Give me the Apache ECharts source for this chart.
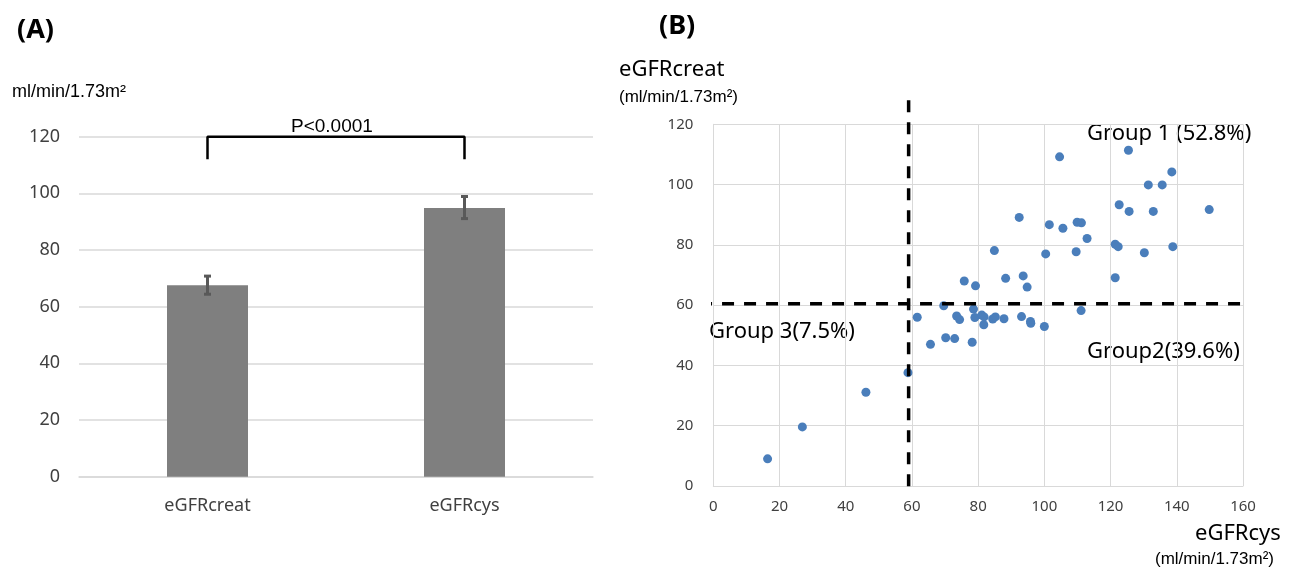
<!DOCTYPE html>
<html>
<head>
<meta charset="utf-8">
<script src="https://cdn.jsdelivr.net/npm/echarts@6/dist/echarts.min.js"></script>
<style>
  html, body { margin: 0; padding: 0; background: #fff; }
  #chart { width: 1316px; height: 569px; }
</style>
</head>
<body>
<div id="chart"></div>
<script>
// (A) bar chart data
const barCategories = ['eGFRcreat', 'eGFRcys'];
const barMeans = [67.6, 94.8];
const barErrLow = [64.4, 91.1];
const barErrHigh = [70.8, 98.9];
const barTicks = [0, 20, 40, 60, 80, 100, 120];
const bracketTop = 120;
const bracketLeg = 112;

// (B) scatter data: eGFRcys (x) vs eGFRcreat (y)
const scatterCys = [
  16.4, 26.9, 46.1, 58.8,
  61.6, 69.6, 73.5, 74.4, 78.6, 79.0, 81.1, 81.8, 81.7, 84.4, 85.2, 87.8,
  93.1, 95.8, 95.9, 100.0, 111.1, 65.6, 70.2, 72.9, 78.2,
  84.9, 75.8, 79.2, 88.3, 93.6, 94.8, 104.6, 92.4, 101.5, 105.6, 109.9,
  111.2, 112.9, 100.4, 109.6, 125.4, 138.5, 131.4, 135.6, 122.6, 125.6,
  132.9, 149.8, 121.4, 122.3, 130.2, 138.8, 121.4
];
const scatterCreat = [
  9.0, 19.6, 31.1, 37.6,
  56.0, 59.8, 56.4, 55.2, 58.7, 55.9, 56.7, 56.1, 53.5, 55.4, 56.1, 55.5,
  56.2, 54.6, 54.0, 52.9, 58.2, 47.0, 49.2, 48.9, 47.7,
  78.1, 68.0, 66.4, 68.9, 69.7, 66.0, 109.2, 89.1, 86.7, 85.5, 87.5,
  87.3, 82.1, 77.0, 77.7, 111.4, 104.2, 99.9, 99.9, 93.3, 91.1,
  91.1, 91.7, 80.2, 79.4, 77.4, 79.4, 69.1
];
const cutoffCys = 59;
const cutoffCreat = 60.5;
const scatterXTicks = [0, 20, 40, 60, 80, 100, 120, 140, 160];
const scatterYTicks = [0, 20, 40, 60, 80, 100, 120];

const font = '"Noto Sans", sans-serif';
const arial = '"Liberation Sans", Arial, sans-serif';
const gridColor = '#d9d9d9';
const tickColor = '#404040';

const chart = echarts.init(document.getElementById('chart'));

const scatterPoints = scatterCys.map((x, i) => [x, scatterCreat[i]]);
const errData = barCategories.map((c, i) => [i, barErrLow[i], barErrHigh[i]]);

const option = {
  animation: false,
  grid: [
    { left: 79, right: 723, top: 136.7, bottom: 92.3 },
    { left: 713.3, right: 73, top: 124.3, bottom: 83 }
  ],
  xAxis: [
    {
      gridIndex: 0,
      type: 'category',
      data: barCategories,
      axisLine: { lineStyle: { color: gridColor, width: 1.5 } },
      axisTick: { show: false },
      axisLabel: { color: tickColor, fontFamily: font, fontSize: 18, margin: 20 }
    },
    {
      gridIndex: 1,
      type: 'value',
      min: 0, max: 160, interval: 20,
      axisLine: { show: true, lineStyle: { color: gridColor } },
      axisTick: { show: false },
      splitLine: { lineStyle: { color: gridColor, width: 1 } },
      axisLabel: { color: tickColor, fontFamily: font, fontSize: 15, margin: 13 }
    }
  ],
  yAxis: [
    {
      gridIndex: 0,
      type: 'value',
      position: 'left',
      min: 0, max: 120, interval: 20,
      axisLine: { show: false },
      axisTick: { show: false },
      splitLine: { lineStyle: { color: gridColor, width: 1.5 } },
      axisLabel: { color: tickColor, fontFamily: font, fontSize: 18, margin: 19 }
    },
    {
      gridIndex: 1,
      type: 'value',
      position: 'left',
      min: 0, max: 120, interval: 20,
      axisLine: { show: true, onZero: false, lineStyle: { color: gridColor } },
      axisTick: { show: false },
      splitLine: { lineStyle: { color: gridColor, width: 1 } },
      axisLabel: { color: tickColor, fontFamily: font, fontSize: 15, margin: 20, align: 'right' }
    }
  ],
  series: [
    {
      type: 'bar',
      xAxisIndex: 0, yAxisIndex: 0,
      data: barMeans,
      barWidth: 81,
      itemStyle: { color: '#7f7f7f' },
      silent: true
    },
    {
      type: 'custom',
      xAxisIndex: 0, yAxisIndex: 0,
      data: errData,
      z: 10,
      renderItem: function (params, api) {
        const lo = api.coord([api.value(0), api.value(1)]);
        const hi = api.coord([api.value(0), api.value(2)]);
        const cap = 3.5;
        const style = { stroke: '#595959', lineWidth: 3 };
        return {
          type: 'group',
          children: [
            { type: 'line', shape: { x1: lo[0], y1: lo[1], x2: hi[0], y2: hi[1] }, style: style },
            { type: 'line', shape: { x1: lo[0] - cap, y1: lo[1], x2: lo[0] + cap, y2: lo[1] }, style: style },
            { type: 'line', shape: { x1: hi[0] - cap, y1: hi[1], x2: hi[0] + cap, y2: hi[1] }, style: style }
          ]
        };
      }
    },
    {
      type: 'line',
      xAxisIndex: 0, yAxisIndex: 0,
      data: [[0, bracketLeg], [0, bracketTop], [1, bracketTop], [1, bracketLeg]],
      symbol: 'none',
      clip: false,
      lineStyle: { color: '#000', width: 2.5 },
      silent: true
    },
    {
      type: 'scatter',
      xAxisIndex: 1, yAxisIndex: 1,
      data: scatterPoints,
      symbolSize: 9,
      itemStyle: { color: '#4a7ebb', opacity: 1 }
    },
    {
      type: 'line',
      xAxisIndex: 1, yAxisIndex: 1,
      data: [[-4, cutoffCreat], [162, cutoffCreat]],
      symbol: 'none',
      clip: false,
      lineStyle: { color: '#000', width: 3.5, type: [12, 10] },
      silent: true
    },
    {
      type: 'line',
      xAxisIndex: 1, yAxisIndex: 1,
      data: [[cutoffCys, 128], [cutoffCys, -3]],
      symbol: 'none',
      clip: false,
      lineStyle: { color: '#000', width: 3.5, type: [12, 10] },
      silent: true
    }
  ],
  graphic: [
    { type: 'text', left: 17, top: 17, style: { text: '(A)', font: 'bold 27px ' + font, fill: '#000' } },
    { type: 'text', left: 12, top: 83, style: { text: 'ml/min/1.73m²', font: '18px ' + arial, fill: '#000' } },
    { type: 'text', left: 291, top: 117, style: { text: 'P<0.0001', font: '19px ' + arial, fill: '#000' } },
    { type: 'text', left: 659, top: 13, style: { text: '(B)', font: 'bold 27px ' + font, fill: '#000' } },
    { type: 'text', left: 619, top: 59, style: { text: 'eGFRcreat', font: '22px ' + font, fill: '#000' } },
    { type: 'text', left: 619, top: 89, style: { text: '(ml/min/1.73m²)', font: '17px ' + arial, fill: '#000' } },
    { type: 'text', left: 1087, top: 123, style: { text: 'Group 1 (52.8%)', font: '22px ' + font, fill: '#000' } },
    { type: 'text', left: 709, top: 321, style: { text: 'Group 3(7.5%)', font: '22px ' + font, fill: '#000' } },
    { type: 'text', left: 1087, top: 341, style: { text: 'Group2(39.6%)', font: '22px ' + font, fill: '#000' } },
    { type: 'text', left: 1195, top: 523, style: { text: 'eGFRcys', font: '22px ' + font, fill: '#000' } },
    { type: 'text', left: 1155, top: 551, style: { text: '(ml/min/1.73m²)', font: '17px ' + arial, fill: '#000' } }
  ]
};

chart.setOption(option);
</script>
</body>
</html>
